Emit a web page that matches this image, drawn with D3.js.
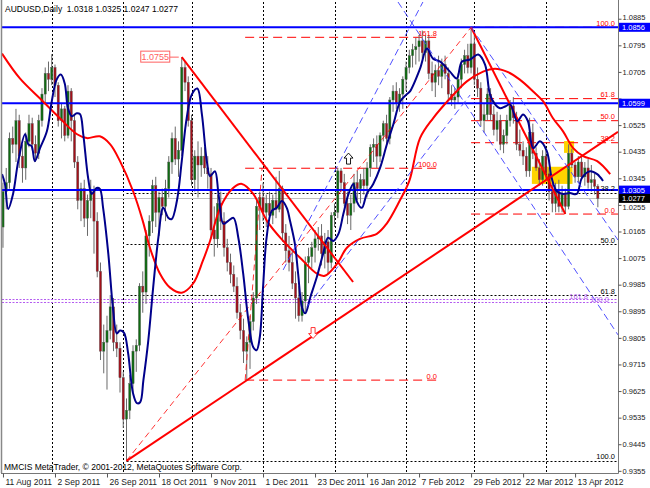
<!DOCTYPE html>
<html><head><meta charset="utf-8">
<script src="https://cdn.jsdelivr.net/npm/d3@7"></script>
<style>body{margin:0;background:#fff;} svg{display:block;font-family:"Liberation Sans",Arial,sans-serif;}</style>
</head><body><svg id="c" width="650" height="488"></svg>
<script>
// ---------------- DATA ----------------
const symbolTitle = "AUDUSD,Daily";
const startDate = "2011-08-11";
const opens = [1.0180,1.0300,1.0330,1.0480,1.0460,1.0540,1.0420,1.0380,1.0470,1.0530,1.0460,1.0430,1.0540,1.0630,1.0700,1.0680,1.0720,1.0660,1.0540,1.0580,1.0490,1.0640,1.0540,1.0400,1.0270,1.0310,1.0210,1.0270,1.0300,1.0200,1.0030,0.9760,0.9790,0.9830,0.9910,0.9790,0.9770,0.9670,0.9530,0.9560,0.9650,0.9760,0.9780,0.9980,0.9960,1.0150,1.0200,1.0320,1.0230,1.0280,1.0250,1.0310,1.0400,1.0480,1.0410,1.0440,1.0720,1.0670,1.0540,1.0340,1.0420,1.0390,1.0420,1.0380,1.0360,1.0170,1.0140,1.0260,1.0200,1.0110,1.0060,1.0020,0.9980,0.9890,0.9830,0.9760,0.9790,0.9860,0.9940,1.0250,1.0280,1.0230,1.0260,1.0220,1.0270,1.0240,1.0310,1.0160,1.0100,1.0060,0.9990,0.9940,0.9880,0.9930,1.0060,1.0080,1.0110,1.0140,1.0150,1.0090,1.0130,1.0060,1.0220,1.0230,1.0370,1.0330,1.0260,1.0220,1.0260,1.0330,1.0310,1.0340,1.0320,1.0380,1.0450,1.0460,1.0420,1.0490,1.0530,1.0480,1.0610,1.0640,1.0600,1.0630,1.0680,1.0720,1.0760,1.0780,1.0790,1.0810,1.0770,1.0810,1.0700,1.0670,1.0710,1.0690,1.0730,1.0700,1.0630,1.0610,1.0620,1.0680,1.0730,1.0760,1.0720,1.0800,1.0680,1.0650,1.0540,1.0560,1.0630,1.0560,1.0510,1.0540,1.0460,1.0490,1.0540,1.0590,1.0550,1.0460,1.0440,1.0420,1.0370,1.0500,1.0430,1.0380,1.0340,1.0420,1.0360,1.0300,1.0260,1.0300,1.0250,1.0290,1.0250,1.0430,1.0390,1.0350,1.0400,1.0350,1.0380,1.0330,1.0340,1.0318];
const highs = [1.0330,1.0380,1.0500,1.0520,1.0580,1.0560,1.0460,1.0500,1.0560,1.0550,1.0490,1.0560,1.0650,1.0720,1.0740,1.0765,1.0730,1.0670,1.0600,1.0590,1.0660,1.0650,1.0560,1.0420,1.0330,1.0340,1.0290,1.0340,1.0320,1.0230,1.0060,0.9850,0.9880,0.9950,0.9940,0.9850,0.9790,0.9690,0.9600,0.9680,0.9780,0.9800,0.9990,1.0030,1.0170,1.0220,1.0340,1.0350,1.0300,1.0310,1.0340,1.0420,1.0500,1.0520,1.0470,1.0755,1.0740,1.0690,1.0560,1.0440,1.0470,1.0450,1.0450,1.0420,1.0380,1.0250,1.0290,1.0300,1.0230,1.0140,1.0090,1.0050,1.0010,0.9920,0.9870,0.9810,0.9880,0.9960,1.0270,1.0300,1.0330,1.0290,1.0300,1.0290,1.0350,1.0370,1.0320,1.0190,1.0150,1.0100,1.0030,0.9980,0.9960,1.0080,1.0110,1.0130,1.0170,1.0180,1.0190,1.0160,1.0170,1.0230,1.0260,1.0380,1.0380,1.0360,1.0300,1.0290,1.0360,1.0370,1.0360,1.0380,1.0400,1.0460,1.0480,1.0490,1.0500,1.0540,1.0560,1.0620,1.0660,1.0670,1.0650,1.0690,1.0740,1.0780,1.0800,1.0820,1.0830,1.0845,1.0830,1.0830,1.0740,1.0730,1.0760,1.0750,1.0760,1.0720,1.0660,1.0650,1.0700,1.0750,1.0780,1.0800,1.0856,1.0830,1.0720,1.0670,1.0600,1.0650,1.0650,1.0590,1.0570,1.0560,1.0510,1.0560,1.0610,1.0620,1.0570,1.0510,1.0470,1.0450,1.0550,1.0530,1.0450,1.0410,1.0440,1.0440,1.0380,1.0330,1.0330,1.0340,1.0320,1.0310,1.0460,1.0445,1.0400,1.0420,1.0420,1.0400,1.0410,1.0390,1.0360,1.0325];
const lows = [1.0110,1.0240,1.0310,1.0430,1.0400,1.0380,1.0330,1.0340,1.0450,1.0440,1.0400,1.0410,1.0520,1.0600,1.0640,1.0660,1.0620,1.0520,1.0480,1.0470,1.0480,1.0470,1.0380,1.0240,1.0200,1.0180,1.0150,1.0210,1.0090,1.0010,0.9730,0.9685,0.9630,0.9800,0.9760,0.9740,0.9620,0.9500,0.9389,0.9530,0.9620,0.9690,0.9760,0.9890,0.9920,1.0080,1.0160,1.0180,1.0150,1.0220,1.0200,1.0280,1.0360,1.0390,1.0350,1.0420,1.0640,1.0520,1.0320,1.0300,1.0280,1.0350,1.0360,1.0310,1.0140,1.0080,1.0110,1.0170,1.0080,1.0030,0.9990,0.9960,0.9870,0.9800,0.9720,0.9663,0.9700,0.9830,0.9920,1.0170,1.0200,1.0180,1.0200,1.0190,1.0210,1.0230,1.0130,1.0060,1.0030,0.9970,0.9870,0.9860,0.9860,0.9890,0.9990,1.0040,1.0060,1.0100,1.0050,1.0040,1.0020,1.0040,1.0180,1.0210,1.0300,1.0250,1.0190,1.0170,1.0230,1.0270,1.0260,1.0290,1.0280,1.0350,1.0400,1.0380,1.0400,1.0470,1.0450,1.0460,1.0570,1.0580,1.0570,1.0580,1.0640,1.0700,1.0720,1.0730,1.0740,1.0750,1.0740,1.0680,1.0640,1.0620,1.0660,1.0650,1.0680,1.0610,1.0590,1.0580,1.0600,1.0650,1.0700,1.0700,1.0700,1.0660,1.0620,1.0520,1.0500,1.0540,1.0540,1.0490,1.0470,1.0440,1.0430,1.0460,1.0520,1.0530,1.0440,1.0420,1.0390,1.0350,1.0350,1.0410,1.0370,1.0320,1.0320,1.0340,1.0270,1.0230,1.0230,1.0230,1.0230,1.0224,1.0240,1.0380,1.0330,1.0330,1.0340,1.0320,1.0310,1.0300,1.0290,1.0247];
const closes = [1.0300,1.0330,1.0480,1.0460,1.0540,1.0420,1.0380,1.0470,1.0530,1.0460,1.0430,1.0540,1.0630,1.0700,1.0680,1.0720,1.0660,1.0540,1.0580,1.0490,1.0640,1.0540,1.0400,1.0270,1.0310,1.0210,1.0270,1.0300,1.0200,1.0030,0.9760,0.9790,0.9830,0.9910,0.9790,0.9770,0.9670,0.9530,0.9560,0.9650,0.9760,0.9780,0.9980,0.9960,1.0150,1.0200,1.0320,1.0230,1.0280,1.0250,1.0310,1.0400,1.0480,1.0410,1.0440,1.0720,1.0670,1.0540,1.0340,1.0420,1.0390,1.0420,1.0380,1.0360,1.0170,1.0140,1.0260,1.0200,1.0110,1.0060,1.0020,0.9980,0.9890,0.9830,0.9760,0.9790,0.9860,0.9940,1.0250,1.0280,1.0230,1.0260,1.0220,1.0270,1.0240,1.0310,1.0160,1.0100,1.0060,0.9990,0.9940,0.9880,0.9930,1.0060,1.0080,1.0110,1.0140,1.0150,1.0090,1.0130,1.0060,1.0220,1.0230,1.0370,1.0330,1.0260,1.0220,1.0260,1.0330,1.0310,1.0340,1.0320,1.0380,1.0450,1.0460,1.0420,1.0490,1.0530,1.0480,1.0610,1.0640,1.0600,1.0630,1.0680,1.0720,1.0760,1.0780,1.0790,1.0810,1.0770,1.0810,1.0700,1.0670,1.0710,1.0690,1.0730,1.0700,1.0630,1.0610,1.0620,1.0680,1.0730,1.0760,1.0720,1.0800,1.0680,1.0650,1.0540,1.0560,1.0630,1.0560,1.0510,1.0540,1.0460,1.0490,1.0540,1.0590,1.0550,1.0460,1.0440,1.0420,1.0370,1.0500,1.0430,1.0380,1.0340,1.0420,1.0360,1.0300,1.0260,1.0300,1.0250,1.0290,1.0250,1.0430,1.0390,1.0350,1.0400,1.0350,1.0380,1.0330,1.0340,1.0318,1.0277];

const xTickLabels = ["11 Aug 2011","2 Sep 2011","26 Sep 2011","18 Oct 2011","9 Nov 2011","1 Dec 2011","23 Dec 2011","16 Jan 2012","7 Feb 2012","29 Feb 2012","22 Mar 2012","13 Apr 2012"];
const yTickValues = [1.0885,1.0795,1.0705,1.0615,1.0525,1.0435,1.0345,1.0255,1.0165,1.0075,0.9985,0.9895,0.9805,0.9715,0.9625,0.9535,0.9445,0.9355];
const blueLevels = [1.0856,1.0599,1.0305];
const bidPrice = 1.0277;

// navy moving average as [bar, price]
const navyMA = [[-0.3,1.0359],[0.6,1.0326],[1.6,1.0241],[3.1,1.0292],[4.7,1.0403],[6.8,1.0494],[7.8,1.0460],[8.8,1.0454],[9.8,1.0403],[11.4,1.0447],[13.5,1.0504],[15,1.0605],[16.5,1.0679],[17.8,1.0696],[19,1.0666],[20,1.0582],[21.2,1.0555],[22.7,1.0565],[23.7,1.0562],[24.7,1.0494],[26.2,1.0346],[27.3,1.0292],[28.8,1.0312],[29.8,1.0309],[30.8,1.0245],[32.4,1.0090],[33.9,0.9898],[35,0.9820],[36,0.9830],[37.2,0.9823],[38.5,0.9753],[40,0.9618],[41.2,0.9584],[42.2,0.9587],[43.2,0.9662],[44.7,0.9796],[46.2,0.9975],[47.8,1.0144],[49.3,1.0245],[50.9,1.0211],[51.9,1.0207],[53.5,1.0268],[55,1.0403],[56.5,1.0548],[58.1,1.0629],[59.8,1.0649],[61.2,1.0561],[62.7,1.0403],[63.7,1.0352],[65.2,1.0369],[66.3,1.0292],[67.8,1.0191],[69.3,1.0201],[70.9,1.0211],[72.4,1.0144],[73.9,1.0022],[75.5,0.9864],[77,0.9773],[78,0.9763],[79,0.9807],[80,0.9975],[81.1,1.0144],[82.7,1.0235],[84.2,1.0245],[85.8,1.0268],[87.3,1.0245],[88.3,1.0201],[89.8,1.0123],[90.8,1.0022],[92,0.9908],[93,0.9888],[94.5,0.9941],[96.5,1.0009],[98.5,1.0090],[100,1.0144],[101.6,1.0133],[103.2,1.0157],[104.7,1.0224],[106.3,1.0292],[107.8,1.0326],[108.8,1.0268],[110.4,1.0245],[111.9,1.0292],[113.9,1.0326],[116,1.0380],[118.1,1.0460],[120.1,1.0528],[122.2,1.0605],[124.2,1.0629],[125.2,1.0639],[128.3,1.0716],[130.4,1.0784],[132.3,1.0750],[134.5,1.0740],[137.5,1.0706],[139.6,1.0683],[141.2,1.0740],[143.7,1.0747],[146.2,1.0764],[148.3,1.0730],[149.8,1.0629],[151.4,1.0595],[152.9,1.0582],[154.5,1.0588],[156,1.0595],[158.2,1.0538],[160,1.0561],[161.5,1.0538],[163.1,1.0447],[165.2,1.0470],[167.3,1.0437],[168.8,1.0346],[170.3,1.0302],[172.3,1.0292],[174.4,1.0295],[176.5,1.0292],[178.1,1.0346],[180.6,1.0369],[182.8,1.0359],[184.6,1.0336]];
// red moving average as [bar, price]
const redMA = [[-0.3,1.0767],[5.2,1.0683],[11.4,1.0615],[17.5,1.0548],[22.8,1.0494],[25.8,1.0481],[29.8,1.0487],[33,1.0460],[36,1.0403],[40,1.0302],[43,1.0201],[45.2,1.0110],[48.3,1.0022],[51.4,0.9975],[55,0.9958],[58.5,0.9989],[61.5,1.0066],[63.7,1.0133],[66.8,1.0245],[70.8,1.0312],[73.5,1.0326],[77,1.0292],[81.2,1.0201],[86.2,1.0133],[91.4,1.0076],[96.6,1.0022],[99,1.0015],[102.8,1.0056],[105.8,1.0110],[109.8,1.0140],[115,1.0157],[118,1.0191],[122,1.0268],[125,1.0336],[128.3,1.0481],[132.3,1.0548],[137.5,1.0615],[142.7,1.0673],[147.7,1.0706],[151.4,1.0716],[155,1.0706],[159,1.0679],[163.1,1.0639],[166.2,1.0605],[169.2,1.0548],[172.3,1.0504],[175.4,1.0447],[178.5,1.0420],[182.8,1.0403],[186.8,1.0359]];

// drawn objects, anchors as [bar, price]
const fibBlack = {a:[38,0.9389], b:[144,1.0856], levels:[0.382,0.5,0.618,1.0], labels:["38.2","50.0","61.8","100.0"]};
const fibRed = {a:[144,1.0856], b:[173,1.0224], levels:[1.0,0.618,0.5,0.382,0.0], labels:["100.0","61.8","50.0","38.2","0.0"]};
const fibRed2 = {a:[74.5,0.9662], b:[79.7,1.0379], end:133.5, levels:[0.0,1.0,1.618], labels:["0.0","100.0","161.8"]};
const violetLevels = [0.9936,0.9925];
const violetLabels = ["161.8","100.0"];
const redTrend = [[[55,1.0755],[107.7,0.9994]], [[38,0.9389],[189.2,1.0502]]];
const blueDashed = [[[121.5,1.0942],[189.2,0.9815]], [[144,1.0856],[189.2,1.0136]], [[86.2,1.0035],[129.2,1.0942]], [[93.5,0.9910],[143.7,1.0627]]];
const yellowBoxes = [[[162.7,1.0384],[175.2,1.0326]], [[172.6,1.0471],[175.7,1.0431]]];
const upArrow = [106.3,1.0410];
const downArrow = [95.4,0.9823];
const priceLabel = {bar:55, price:1.0755, text:"1.0755"};

// ---------------- CHART ----------------
const plot = {l:2, r:618, t:2, b:473};
const svg = d3.select("#c");
const n = closes.length;
const parse = d3.timeParse("%Y-%m-%d");
const dates = [];
for (let d = parse(startDate); dates.length < n; d = d3.timeDay.offset(d,1)) {
  if (d.getDay() !== 0 && d.getDay() !== 6) dates.push(new Date(d));
}
const fmt = d3.timeFormat("%-d %b %Y");
const bars = closes.map((c,i)=>({i, o:opens[i], h:highs[i], l:lows[i], c, date:dates[i]}));

const x = d3.scaleLinear().domain([-0.3,189.2]).range([plot.l, plot.r]);
const y = d3.scaleLinear().domain([0.93477,1.09416]).range([plot.b, plot.t]);

svg.append("rect").attr("width",650).attr("height",488).attr("fill","#fff");
svg.append("defs").append("clipPath").attr("id","clip")
  .append("rect").attr("x",plot.l).attr("y",plot.t).attr("width",plot.r-plot.l).attr("height",plot.b-plot.t);
const g = svg.append("g").attr("clip-path","url(#clip)");

// yellow rectangles (background)
g.selectAll("rect.yb").data(yellowBoxes).join("rect")
  .attr("x",d=>x(d[0][0])).attr("y",d=>y(d[0][1]))
  .attr("width",d=>x(d[1][0])-x(d[0][0])).attr("height",d=>y(d[1][1])-y(d[0][1]))
  .attr("fill","#ffd400");

// month separators
const sepIdx = bars.filter((b,i)=>i>0 && b.date.getMonth()!==bars[i-1].date.getMonth()).map(b=>b.i);
g.selectAll("line.sep").data(sepIdx).join("line")
  .attr("x1",d=>Math.round(x(d))+0.5).attr("x2",d=>Math.round(x(d))+0.5)
  .attr("y1",plot.t).attr("y2",plot.b)
  .attr("stroke","#000").attr("stroke-width",1).attr("stroke-dasharray","2,2");

// black fibonacci levels
const fbRange = fibBlack.b[1]-fibBlack.a[1];
g.selectAll("line.fb").data(fibBlack.levels).join("line")
  .attr("x1",x(fibBlack.a[0])).attr("x2",plot.r)
  .attr("y1",d=>Math.round(y(fibBlack.b[1]-d*fbRange))+0.5).attr("y2",d=>Math.round(y(fibBlack.b[1]-d*fbRange))+0.5)
  .attr("stroke","#000").attr("stroke-dasharray","2,2");

// violet levels
g.selectAll("line.vl").data(violetLevels).join("line")
  .attr("x1",plot.l).attr("x2",plot.r)
  .attr("y1",d=>Math.round(y(d))+0.5).attr("y2",d=>Math.round(y(d))+0.5)
  .attr("stroke","#b45cf0").attr("stroke-dasharray","2,1.5");

// red fib levels
const frRange = fibRed.a[1]-fibRed.b[1];
g.selectAll("line.fr").data(fibRed.levels).join("line")
  .attr("x1",x(fibRed.a[0])).attr("x2",plot.r)
  .attr("y1",d=>y(fibRed.b[1]+d*frRange)).attr("y2",d=>y(fibRed.b[1]+d*frRange))
  .attr("stroke","#ff0000").attr("stroke-dasharray","9,5");
const fr2Range = fibRed2.b[1]-fibRed2.a[1];
g.selectAll("line.fr2").data(fibRed2.levels).join("line")
  .attr("x1",x(fibRed2.a[0])).attr("x2",x(fibRed2.end))
  .attr("y1",d=>y(fibRed2.a[1]+d*fr2Range)).attr("y2",d=>y(fibRed2.a[1]+d*fr2Range))
  .attr("stroke","#ff0000").attr("stroke-dasharray","9,5");

// bid line
g.append("line").attr("x1",plot.l).attr("x2",plot.r)
  .attr("y1",Math.round(y(bidPrice))+0.5).attr("y2",Math.round(y(bidPrice))+0.5)
  .attr("stroke","#c0c0c0");

// candles
const bw = 2.2;
const cg = g.append("g");
cg.selectAll("line.w").data(bars).join("line")
  .attr("x1",d=>x(d.i)).attr("x2",d=>x(d.i))
  .attr("y1",d=>y(d.h)).attr("y2",d=>y(d.l))
  .attr("stroke","#6a6a6a").attr("stroke-width",1);
cg.selectAll("rect.b").data(bars).join("rect")
  .attr("x",d=>x(d.i)-bw/2).attr("width",bw)
  .attr("y",d=>y(Math.max(d.o,d.c))).attr("height",d=>Math.max(1,Math.abs(y(d.o)-y(d.c))))
  .attr("fill",d=>d.c>=d.o?"#0f6b12":"#a3101a")
  .attr("stroke","#555").attr("stroke-width",0.4);

// blue horizontal levels
g.selectAll("line.bl").data(blueLevels).join("line")
  .attr("x1",plot.l).attr("x2",plot.r).attr("y1",d=>y(d)).attr("y2",d=>y(d))
  .attr("stroke","#0000ff").attr("stroke-width",2);

// fib diagonals
g.append("line").attr("x1",x(fibBlack.a[0])).attr("y1",y(fibBlack.a[1]))
  .attr("x2",x(fibBlack.b[0])).attr("y2",y(fibBlack.b[1]))
  .attr("stroke","#ff0000").attr("stroke-dasharray","6,4").attr("stroke-width",0.8);
g.append("line").attr("x1",x(fibRed2.a[0])).attr("y1",y(fibRed2.a[1]))
  .attr("x2",x(fibRed2.b[0])).attr("y2",y(fibRed2.b[1]))
  .attr("stroke","#ff0000").attr("stroke-dasharray","6,4").attr("stroke-width",0.8);
g.append("line").attr("x1",x(fibRed.a[0])).attr("y1",y(fibRed.a[1]))
  .attr("x2",x(fibRed.b[0])).attr("y2",y(fibRed.b[1]))
  .attr("stroke","#ff0000").attr("stroke-width",2);

// moving averages
const line = d3.line().x(d=>x(d[0])).y(d=>y(d[1])).curve(d3.curveCatmullRom.alpha(0.5));
g.append("path").attr("d",line(redMA)).attr("fill","none").attr("stroke","#ff0000").attr("stroke-width",2);
g.append("path").attr("d",line(navyMA)).attr("fill","none").attr("stroke","#00008b").attr("stroke-width",2);

// red trend lines
g.selectAll("line.tr").data(redTrend).join("line")
  .attr("x1",d=>x(d[0][0])).attr("y1",d=>y(d[0][1])).attr("x2",d=>x(d[1][0])).attr("y2",d=>y(d[1][1]))
  .attr("stroke","#ff0000").attr("stroke-width",2);

// blue dashed channel lines
g.selectAll("line.bd").data(blueDashed).join("line")
  .attr("x1",d=>x(d[0][0])).attr("y1",d=>y(d[0][1])).attr("x2",d=>x(d[1][0])).attr("y2",d=>y(d[1][1]))
  .attr("stroke","#3c3cff").attr("stroke-width",0.9).attr("stroke-dasharray","7,4");

// arrows
function arrowPath(cx,cy,dir){
  const p=[[0,-6],[4.5,-1],[2,-1],[2,5],[-2,5],[-2,-1],[-4.5,-1]];
  return "M"+p.map(q=>[cx+q[0],cy+q[1]*dir].join(",")).join("L")+"Z";
}
g.append("path").attr("d",arrowPath(x(upArrow[0]),y(upArrow[1]),1)).attr("fill","#fff").attr("stroke","#000").attr("stroke-width",0.9);
g.append("path").attr("d",arrowPath(x(downArrow[0]),y(downArrow[1]),-1)).attr("fill","#fff").attr("stroke","#ff2020").attr("stroke-width",0.9);

// price label 1.0755
const plx = x(priceLabel.bar), ply = y(priceLabel.price);
g.append("line").attr("x1",plx-12).attr("x2",plx-3).attr("y1",ply).attr("y2",ply).attr("stroke","#ff6060").attr("stroke-width",1);
g.append("rect").attr("x",plx-41).attr("y",ply-6).attr("width",29).attr("height",11)
  .attr("fill","#fff").attr("stroke","#ff6060");
g.append("text").attr("x",plx-26.5).attr("y",ply+3).attr("text-anchor","middle")
  .attr("font-size",9).attr("fill","#ff6060").text(priceLabel.text);

// level labels
const lab = g.append("g").attr("font-size",7.5);
lab.selectAll("text.fb").data(fibBlack.levels).join("text")
  .attr("x",615).attr("y",(d)=>y(fibBlack.b[1]-d*fbRange)-1.5).attr("text-anchor","end")
  .attr("fill","#000").text((d,i)=>fibBlack.labels[i]);
lab.selectAll("text.fr").data(fibRed.levels).join("text")
  .attr("x",615).attr("y",d=>y(fibRed.b[1]+d*frRange)-1.5).attr("text-anchor","end")
  .attr("fill","#ff0000").text((d,i)=>fibRed.labels[i]);
lab.selectAll("text.fr2").data(fibRed2.levels).join("text")
  .attr("x",x(fibRed2.end)).attr("y",d=>y(fibRed2.a[1]+d*fr2Range)-1.5).attr("text-anchor","end")
  .attr("fill","#ff0000").text((d,i)=>fibRed2.labels[i]);
lab.selectAll("text.vl").data(violetLevels).join("text")
  .attr("x",(d,i)=>i===0?588:609).attr("y",d=>y(d)).attr("text-anchor","end")
  .attr("fill","#b45cf0").text((d,i)=>violetLabels[i]);

// frame
svg.append("line").attr("x1",1.5).attr("x2",1.5).attr("y1",0).attr("y2",plot.b).attr("stroke","#888").attr("stroke-width",1.5);
svg.append("line").attr("x1",plot.r+0.5).attr("x2",plot.r+0.5).attr("y1",0).attr("y2",plot.b+0.5).attr("stroke","#777");
svg.append("line").attr("x1",1).attr("x2",plot.r+0.5).attr("y1",plot.b+0.5).attr("y2",plot.b+0.5).attr("stroke","#777");

// right axis price boxes (the box hides a tick label right under it, as in the terminal)
const boxes = blueLevels.map(p=>({p, fill:"#0000ff"})).concat([{p:bidPrice, fill:"#000"}]);
const boxH = 9;
const covered = v => boxes.some(b => Math.abs(y(b.p) - y(v)) < 5.5);

// y axis
const yAxis = d3.axisRight(y).tickValues(yTickValues).tickSize(3)
  .tickFormat(v => covered(v) ? "" : d3.format(".4f")(v));
const ya = svg.append("g").attr("transform",`translate(${plot.r+0.5},0)`).call(yAxis);
ya.select(".domain").remove();
ya.selectAll("line").attr("stroke","#555");
ya.selectAll("text").attr("font-size",7.5).attr("font-family","Liberation Sans, Arial, sans-serif").attr("fill","#222").attr("x",4)
  .attr("dy", v => {
    // nudge a label clear of a nearby price box
    const near = boxes.find(b => Math.abs(y(b.p)-y(v)) < 9);
    if (!near) return "0.3em";
    return (y(v) > y(near.p)) ? "0.65em" : "0.05em";
  });
ya.selectAll(".tick").filter(v=>covered(v)).select("text").remove();

// x axis
const tickIdx = xTickLabels.map(l=>bars.findIndex(b=>fmt(b.date)===l)).filter(i=>i>=0);
const xAxis = d3.axisBottom(x).tickValues(tickIdx).tickSize(4).tickFormat(i=>fmt(bars[i].date));
const xa = svg.append("g").attr("transform",`translate(0,${plot.b+0.5})`).call(xAxis);
xa.select(".domain").remove();
xa.selectAll("line").attr("stroke","#555");
xa.selectAll("text").attr("font-size",8.5).attr("font-family","Liberation Sans, Arial, sans-serif").attr("fill","#222")
  .attr("text-anchor","start").attr("x",2).attr("y",5);

const bxg = svg.append("g");
bxg.selectAll("rect").data(boxes).join("rect")
  .attr("x",plot.r+1).attr("y",d=>y(d.p)-boxH/2).attr("width",31).attr("height",boxH).attr("fill",d=>d.fill);
bxg.selectAll("text").data(boxes).join("text")
  .attr("x",plot.r+4).attr("y",d=>y(d.p)+2.8).attr("font-size",7.5).attr("fill","#fff").text(d=>d.p.toFixed(4));

// title and copyright
const last = bars[n-1];
svg.append("text").attr("x",5).attr("y",12).attr("font-size",8.5).attr("fill","#000").attr("xml:space","preserve")
  .text(`${symbolTitle}  ${last.o.toFixed(4)} ${last.h.toFixed(4)} ${last.l.toFixed(4)} ${last.c.toFixed(4)}`);
svg.append("text").attr("x",4).attr("y",470).attr("font-size",8.5).attr("fill","#000")
  .text("MMCIS MetaTrader, © 2001-2012, MetaQuotes Software Corp.");
</script></body></html>
